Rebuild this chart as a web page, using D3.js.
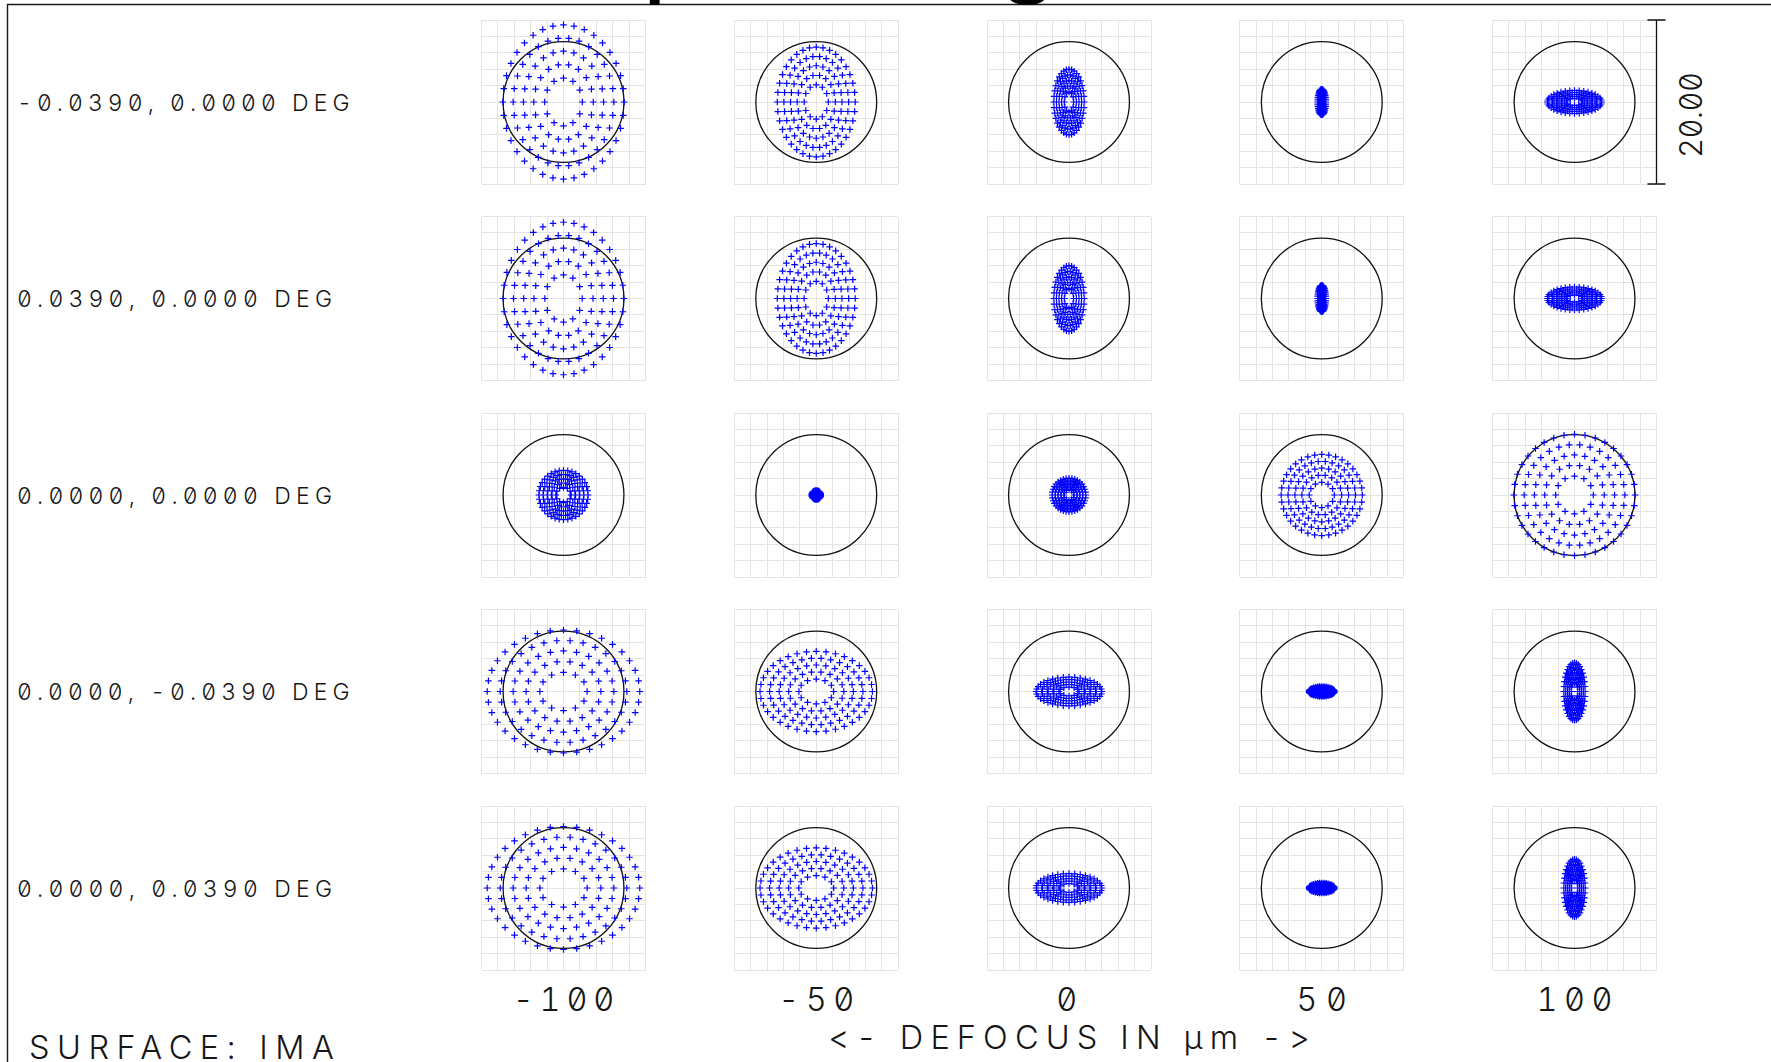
<!DOCTYPE html>
<html>
<head>
<meta charset="utf-8">
<script src="https://cdn.jsdelivr.net/npm/d3@7"></script>
<style>
  html, body { margin: 0; padding: 0; background: #ffffff; overflow: hidden; }
  svg { display: block; }
  .lbl {
    font-family: Inter, "DejaVu Sans", sans-serif;
    font-weight: 300;
    font-feature-settings: "zero" 1, "tnum" 1, "calt" 0, "liga" 0;
    font-variant-ligatures: none;
    fill: #161616;
  }
  .title { font-family: "Liberation Sans", Arial, sans-serif; fill: #000; }
</style>
</head>
<body>
<svg id="chart" width="1771" height="1062"></svg>
<script>
// ---- through-focus spot diagram data ----
const chartTitle = "Spot Diagram";
const fieldLabels = [
  "-0.0390, 0.0000 DEG",
  "0.0390, 0.0000 DEG",
  "0.0000, 0.0000 DEG",
  "0.0000, -0.0390 DEG",
  "0.0000, 0.0390 DEG"
];
const defocusValues = [-100, -50, 0, 50, 100];       // µm
const defocusLabels = ["-100", "-50", "0", "50", "100"];
const axisTitle = "<- DEFOCUS IN \u00b5m ->";
const surfaceLabel = "SURFACE: IMA";
const scaleLabel = "20.00";

// spot half-extents (µm) per field row / defocus column
const spotHalfWidth = [
  [7.40, 4.75, 1.85, 0.50, 3.30],
  [7.35, 4.75, 1.85, 0.50, 3.30],
  [3.00, 0.55, 2.05, 4.95, 7.40],
  [9.30, 6.85, 4.00, 1.55, 1.30],
  [9.30, 6.85, 4.00, 1.55, 1.30]
];
const spotHalfHeight = [
  [9.40, 6.70, 4.00, 1.56, 1.40],
  [9.30, 6.70, 4.00, 1.60, 1.40],
  [3.00, 0.55, 2.05, 4.95, 7.40],
  [7.50, 4.90, 1.75, 0.60, 3.50],
  [7.50, 4.90, 1.75, 0.60, 3.50]
];

// hexapolar pupil sampling with central obscuration
const pupilRingRadius = [0.31, 0.49, 0.66, 0.83, 1.00];
const pupilRingCount  = [12, 18, 24, 30, 36];

const airyRadius = 7.37;   // µm
const boxSize = 20;        // µm across each cell
const gridDivisions = 10;

// ---- layout ----
const W = 1771, H = 1062;
const svg = d3.select("#chart");

const colX = d3.scalePoint().domain(defocusValues).range([563.5, 1574.5]);
const rowY = d3.scalePoint().domain(d3.range(fieldLabels.length)).range([102, 888]);
const cellHalf = 82;
const micron = d3.scaleLinear().domain([-boxSize / 2, boxSize / 2]).range([-cellHalf, cellHalf]);

// outer frame (runs off the right and bottom edges)
svg.append("path")
  .attr("d", `M7.5,${H + 10}V4.5H${W + 10}`)
  .attr("fill", "none")
  .attr("stroke", "#1a1a1a")
  .attr("stroke-width", 1.4);

// title sits above the frame, only its descenders reach the page
svg.append("text")
  .attr("class", "title")
  .attr("x", 910)
  .attr("y", -18)
  .attr("text-anchor", "middle")
  .attr("font-size", 112)
  .text(chartTitle);

// pupil coordinates
const pupil = [];
pupilRingRadius.forEach((r, i) => {
  const n = pupilRingCount[i];
  for (let j = 0; j < n; j++) {
    const a = 2 * Math.PI * j / n;
    pupil.push([r * Math.cos(a), r * Math.sin(a)]);
  }
});

const gridTicks = d3.range(gridDivisions + 1).map(k => -boxSize / 2 + k * boxSize / gridDivisions);
const crossArm = 3.3;

fieldLabels.forEach((field, i) => {
  defocusValues.forEach((dz, j) => {
    const g = svg.append("g")
      .attr("transform", `translate(${colX(dz)},${rowY(i)})`);

    // light reference grid
    g.append("g").selectAll("line").data(gridTicks).join("line")
      .attr("x1", t => micron(t)).attr("x2", t => micron(t))
      .attr("y1", micron(-boxSize / 2)).attr("y2", micron(boxSize / 2))
      .attr("stroke", "#e4e4e4").attr("stroke-width", 1)
      .attr("shape-rendering", "crispEdges");
    g.append("g").selectAll("line").data(gridTicks).join("line")
      .attr("y1", t => micron(t)).attr("y2", t => micron(t))
      .attr("x1", micron(-boxSize / 2)).attr("x2", micron(boxSize / 2))
      .attr("stroke", "#e4e4e4").attr("stroke-width", 1)
      .attr("shape-rendering", "crispEdges");

    // Airy disk
    g.append("circle")
      .attr("cx", 0).attr("cy", 0)
      .attr("r", micron(airyRadius) - micron(0))
      .attr("fill", "none")
      .attr("stroke", "#111")
      .attr("stroke-width", 1.3);

    // ray intercepts
    const hx = spotHalfWidth[i][j], hy = spotHalfHeight[i][j];
    const p = d3.path();
    pupil.forEach(([px, py]) => {
      const x = micron(px * hx), y = micron(-py * hy);
      p.moveTo(x - crossArm, y); p.lineTo(x + crossArm, y);
      p.moveTo(x, y - crossArm); p.lineTo(x, y + crossArm);
    });
    g.append("path")
      .attr("d", p.toString())
      .attr("fill", "none")
      .attr("stroke", "#0000ff")
      .attr("stroke-width", 1.2);
  });
});

// scale bar beside the first row
const barX = colX(defocusValues[defocusValues.length - 1]) + cellHalf;
const barTop = rowY(0) + micron(-boxSize / 2), barBot = rowY(0) + micron(boxSize / 2);
svg.append("path")
  .attr("d", `M${barX},${barTop}V${barBot}M${barX - 9},${barTop}H${barX + 9}M${barX - 9},${barBot}H${barX + 9}`)
  .attr("fill", "none").attr("stroke", "#111").attr("stroke-width", 1.3);

const bigSize = 32.5, bigPitch = 25.4;
const rowSize = 23, rowPitch = 17.5;

function spacedText(x, y, str, size, pitch, anchor) {
  const len = str.length * pitch;
  const x0 = anchor === "middle" ? x - len / 2 : x;
  return svg.append("text")
    .attr("class", "lbl")
    .attr("x", x0).attr("y", y)
    .attr("font-size", size)
    .attr("textLength", len)
    .attr("lengthAdjust", "spacing")
    .attr("xml:space", "preserve")
    .text(str);
}

svg.append("text")
  .attr("class", "lbl")
  .attr("transform", `translate(${barX + 45},${rowY(0) + 13}) rotate(-90)`)
  .attr("x", -43).attr("y", 0)
  .attr("font-size", 31)
  .attr("textLength", 86)
  .attr("lengthAdjust", "spacing")
  .text(scaleLabel);

// field labels
fieldLabels.forEach((f, i) => {
  spacedText(17, rowY(i) + 8.5, f, rowSize, rowPitch, "start");
});

// defocus tick labels
defocusLabels.forEach((t, j) => {
  spacedText(colX(defocusValues[j]), 1011, t, bigSize, bigPitch, "middle");
});

spacedText(colX(0), 1048.5, axisTitle, bigSize, bigPitch, "middle");
spacedText(29, 1059, surfaceLabel, bigSize, bigPitch, "start");
</script>
</body>
</html>
